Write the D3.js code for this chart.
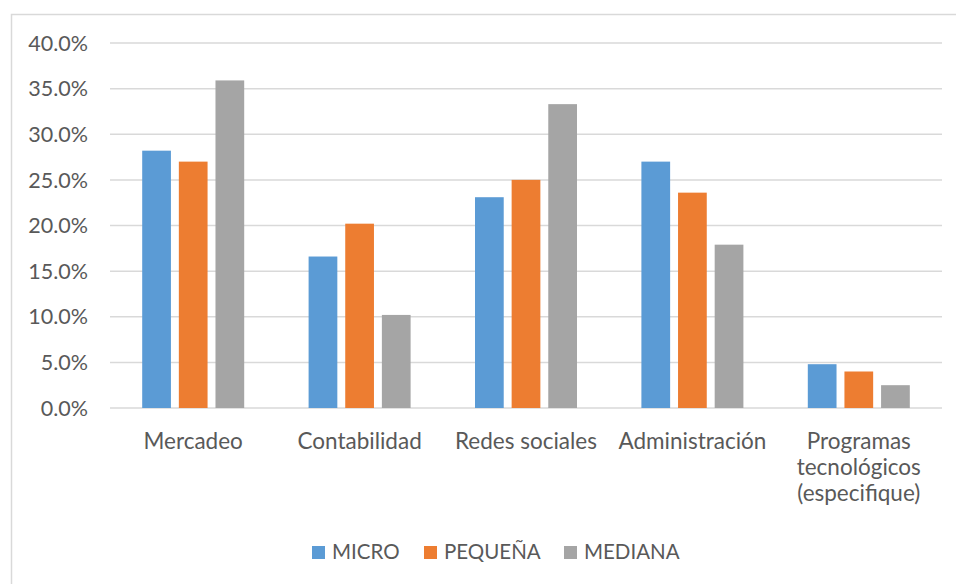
<!DOCTYPE html>
<html>
<head>
<meta charset="utf-8">
<script src="https://cdn.jsdelivr.net/npm/d3@7"></script>
<style>
  html, body { margin: 0; padding: 0; background: #fff; }
  svg { display: block; }
  text { font-family: Lato, "Open Sans", sans-serif; fill: #595959; }
</style>
</head>
<body>
<svg id="chart" width="956" height="584"></svg>
<script>
const categories = ["Mercadeo", "Contabilidad", "Redes sociales", "Administración", "Programas tecnológicos (especifique)"];
const categoryLines = [["Mercadeo"], ["Contabilidad"], ["Redes sociales"], ["Administración"], ["Programas", "tecnológicos", "(especifique)"]];
const seriesNames = ["MICRO", "PEQUEÑA", "MEDIANA"];
const micro   = [0.282, 0.166, 0.231, 0.270, 0.048];
const pequena = [0.270, 0.202, 0.250, 0.236, 0.040];
const mediana = [0.359, 0.102, 0.333, 0.179, 0.025];
const seriesValues = [micro, pequena, mediana];
const colors = ["#5B9BD5", "#ED7D31", "#A5A5A5"];
const yTicks = [0, 0.05, 0.10, 0.15, 0.20, 0.25, 0.30, 0.35, 0.40];

const svg = d3.select("#chart");

// outer chart border
svg.append("rect")
  .attr("x", 11.5).attr("y", 14.5)
  .attr("width", 1000).attr("height", 700)
  .attr("fill", "none").attr("stroke", "#D9D9D9").attr("stroke-width", 1.5);

const plot = { left: 110, right: 942, top: 43, bottom: 408 };

const y = d3.scaleLinear().domain([0, 0.40]).range([plot.bottom, plot.top]);
const x0 = d3.scaleBand().domain(categories).range([plot.left, plot.right]).paddingInner(0).paddingOuter(0);
const groupW = 102;
const x1 = d3.scaleBand().domain(seriesNames).range([0, groupW]).paddingInner(0.216).paddingOuter(0);

// gridlines
svg.append("g").selectAll("line")
  .data(yTicks)
  .join("line")
  .attr("x1", plot.left).attr("x2", plot.right)
  .attr("y1", d => y(d)).attr("y2", d => y(d))
  .attr("stroke", "#D9D9D9").attr("stroke-width", 1.5);

// y tick labels
const fmt = d3.format(".1%");
svg.append("g").selectAll("text")
  .data(yTicks)
  .join("text")
  .attr("x", 88)
  .attr("y", d => y(d))
  .attr("dy", "0.36em")
  .attr("text-anchor", "end")
  .style("font-size", "21.5px")
  .text(d => fmt(d));

// bars
const rows = categories.map((c, i) => ({ cat: c, vals: seriesNames.map((s, j) => ({ s, v: seriesValues[j][i], color: colors[j] })) }));
const groups = svg.append("g").selectAll("g")
  .data(rows)
  .join("g")
  .attr("transform", d => `translate(${x0(d.cat) + (x0.bandwidth() - groupW) / 2},0)`);
groups.selectAll("rect")
  .data(d => d.vals)
  .join("rect")
  .attr("x", d => x1(d.s))
  .attr("width", x1.bandwidth())
  .attr("y", d => y(d.v))
  .attr("height", d => y(0) - y(d.v))
  .attr("fill", d => d.color);

// category labels
const catG = svg.append("g").selectAll("text")
  .data(categories)
  .join("text")
  .attr("x", d => x0(d) + x0.bandwidth() / 2)
  .attr("y", 449)
  .attr("text-anchor", "middle")
  .style("font-size", "22.5px");
catG.selectAll("tspan")
  .data((d, i) => categoryLines[i])
  .join("tspan")
  .attr("x", function () { return d3.select(this.parentNode).attr("x"); })
  .attr("dy", (d, i) => i === 0 ? 0 : 26)
  .text(d => d);

// legend
const legendItems = [
  { name: seriesNames[0], color: colors[0], x: 312 },
  { name: seriesNames[1], color: colors[1], x: 424 },
  { name: seriesNames[2], color: colors[2], x: 564 }
];
const lg = svg.append("g").selectAll("g")
  .data(legendItems)
  .join("g")
  .attr("transform", d => `translate(${d.x},0)`);
lg.append("rect")
  .attr("x", 0).attr("y", 546)
  .attr("width", 13).attr("height", 13)
  .attr("fill", d => d.color);
lg.append("text")
  .attr("x", 20).attr("y", 559)
  .style("font-size", "20.5px")
  .text(d => d.name);
</script>
</body>
</html>
